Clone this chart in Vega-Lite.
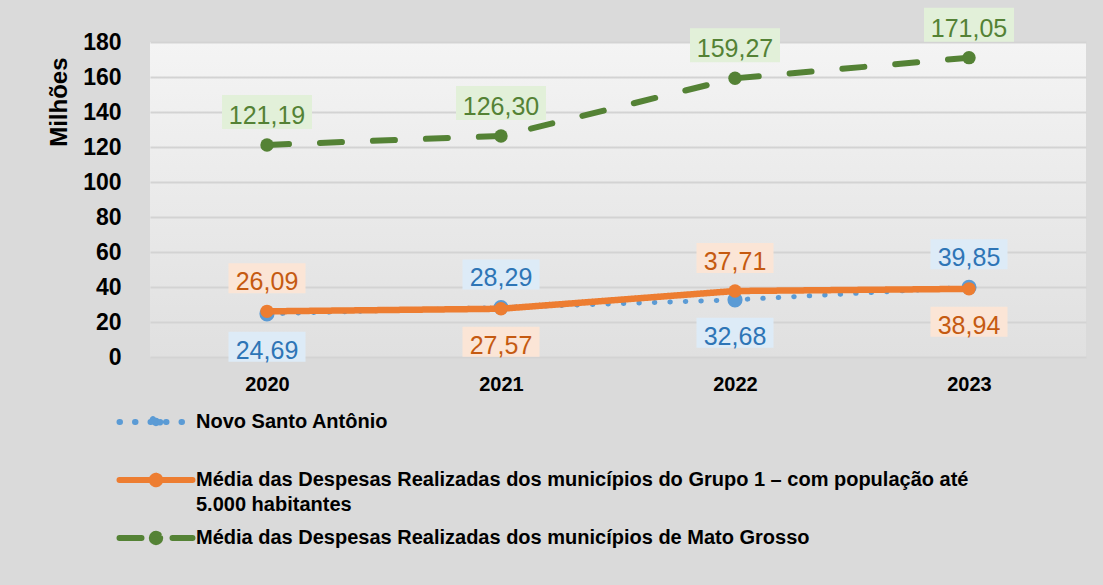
{
  "$schema": "https://vega.github.io/schema/vega-lite/v6.json",
  "width": 936,
  "height": 315,
  "autosize": {"type": "none"},
  "padding": {"left": 150, "top": 42, "right": 17, "bottom": 228},
  "background": "#dadada",
  "config": {
    "font": "Liberation Sans",
    "view": {
      "stroke": null,
      "fill": {"gradient": "linear", "x1": 0, "y1": 0, "x2": 0, "y2": 1, "stops": [{"offset": 0, "color": "#f4f4f4"}, {"offset": 1, "color": "#e0e0e0"}]}
    },
    "locale": {"number": {"decimal": ",", "thousands": ".", "grouping": [3], "currency": ["R$ ", ""]}}
  },
  "data": {
    "values": [
      {"series": "Novo Santo Antônio", "year": "2020", "value": 24.69, "side": "below"},
      {"series": "Novo Santo Antônio", "year": "2021", "value": 28.29, "side": "above"},
      {"series": "Novo Santo Antônio", "year": "2022", "value": 32.68, "side": "below"},
      {"series": "Novo Santo Antônio", "year": "2023", "value": 39.85, "side": "above"},
      {"series": "Média das Despesas Realizadas dos municípios do Grupo 1 – com população até 5.000 habitantes", "year": "2020", "value": 26.09, "side": "above"},
      {"series": "Média das Despesas Realizadas dos municípios do Grupo 1 – com população até 5.000 habitantes", "year": "2021", "value": 27.57, "side": "below"},
      {"series": "Média das Despesas Realizadas dos municípios do Grupo 1 – com população até 5.000 habitantes", "year": "2022", "value": 37.71, "side": "above"},
      {"series": "Média das Despesas Realizadas dos municípios do Grupo 1 – com população até 5.000 habitantes", "year": "2023", "value": 38.94, "side": "below"},
      {"series": "Média das Despesas Realizadas dos municípios de Mato Grosso", "year": "2020", "value": 121.19, "side": "above"},
      {"series": "Média das Despesas Realizadas dos municípios de Mato Grosso", "year": "2021", "value": 126.30, "side": "above"},
      {"series": "Média das Despesas Realizadas dos municípios de Mato Grosso", "year": "2022", "value": 159.27, "side": "above"},
      {"series": "Média das Despesas Realizadas dos municípios de Mato Grosso", "year": "2023", "value": 171.05, "side": "above"}
    ]
  },
  "encoding": {
    "x": {
      "field": "year", "type": "ordinal",
      "scale": {"type": "point", "padding": 0.5},
      "axis": {"title": null, "domain": false, "ticks": false, "labelAngle": 0, "labelFontSize": 20, "labelFontWeight": "bold", "labelColor": "#000000", "labelPadding": 17}
    },
    "y": {
      "field": "value", "type": "quantitative",
      "scale": {"domain": [0, 180], "nice": false},
      "axis": {"title": "Milhões", "values": [0, 20, 40, 60, 80, 100, 120, 140, 160, 180], "domain": false, "ticks": false, "grid": true, "gridColor": "#d3d3d3", "gridWidth": 2, "labelFontSize": 23, "labelFontWeight": "bold", "labelColor": "#000000", "labelPadding": 29, "titleFontSize": 24, "titleFontWeight": "bold", "titleColor": "#000000", "titlePadding": 11, "titleAnchor": "end", "titleY": 15}
    }
  },
  "layer": [
    {
      "encoding": {
        "color": {
          "field": "series", "type": "nominal",
          "scale": {
            "domain": ["Novo Santo Antônio", "Média das Despesas Realizadas dos municípios do Grupo 1 – com população até 5.000 habitantes", "Média das Despesas Realizadas dos municípios de Mato Grosso"],
            "range": ["#5B9BD5", "#ED7D31", "#548235"]
          },
          "legend": {
            "title": null, "orient": "none", "legendX": -7, "legendY": 367, "direction": "vertical", "padding": 0,
            "symbolSize": 400, "symbolType": "M-3.65,0H3.65M0.42,0A0.42,0.42,0,1,1,-0.42,0A0.42,0.42,0,1,1,0.42,0", "symbolStrokeWidth": 6,
            "labelFontSize": 20, "labelFontWeight": "bold", "labelColor": "#000000", "labelLimit": 1000, "labelOffset": 27, "rowPadding": 6, "labelBaseline": "middle",
            "labelExpr": "indexof(datum.label, 'Grupo 1') >= 0 ? replace(datum.label, 'até 5', 'até\\n5') : datum.label + '\\n '",
            "encode": {
              "symbols": {"update": {
                "fill": {"scale": "color", "field": "value"},
                "stroke": {"scale": "color", "field": "value"},
                "strokeCap": {"value": "round"}
              }},
              "labels": {"update": {"lineHeight": {"value": 25}, "lineBreak": {"value": "\n"}}}
            }
          }
        }
      },
      "layer": [
        {
          "transform": [{"filter": {"field": "series", "equal": "Novo Santo Antônio"}}],
          "mark": {"type": "line", "strokeWidth": 5, "strokeCap": "round", "strokeJoin": "round"},
          "encoding": {"strokeDash": {"field": "series", "type": "nominal", "scale": {"domain": ["Novo Santo Antônio", "Média das Despesas Realizadas dos municípios do Grupo 1 – com população até 5.000 habitantes", "Média das Despesas Realizadas dos municípios de Mato Grosso"], "range": [[0.5, 15], [1, 0], [22, 31]]}}}
        },
        {
          "transform": [{"filter": {"field": "series", "equal": "Novo Santo Antônio"}}],
          "mark": {"type": "point", "filled": true, "opacity": 1, "size": 230}
        },
        {
          "transform": [{"filter": {"field": "series", "equal": "Média das Despesas Realizadas dos municípios do Grupo 1 – com população até 5.000 habitantes"}}],
          "mark": {"type": "line", "strokeWidth": 6.5, "strokeCap": "round", "strokeJoin": "round"},
          "encoding": {"strokeDash": {"field": "series", "type": "nominal", "scale": {"domain": ["Novo Santo Antônio", "Média das Despesas Realizadas dos municípios do Grupo 1 – com população até 5.000 habitantes", "Média das Despesas Realizadas dos municípios de Mato Grosso"], "range": [[0.5, 15], [1, 0], [22, 31]]}}}
        },
        {
          "transform": [{"filter": {"field": "series", "equal": "Média das Despesas Realizadas dos municípios do Grupo 1 – com população até 5.000 habitantes"}}],
          "mark": {"type": "point", "filled": true, "opacity": 1, "size": 180}
        },
        {
          "transform": [{"filter": {"field": "series", "equal": "Média das Despesas Realizadas dos municípios de Mato Grosso"}}],
          "mark": {"type": "line", "strokeWidth": 6, "strokeCap": "round", "strokeJoin": "round"},
          "encoding": {"strokeDash": {"field": "series", "type": "nominal", "scale": {"domain": ["Novo Santo Antônio", "Média das Despesas Realizadas dos municípios do Grupo 1 – com população até 5.000 habitantes", "Média das Despesas Realizadas dos municípios de Mato Grosso"], "range": [[0.5, 15], [1, 0], [22, 31]]}}}
        },
        {
          "transform": [{"filter": {"field": "series", "equal": "Média das Despesas Realizadas dos municípios de Mato Grosso"}}],
          "mark": {"type": "point", "filled": true, "opacity": 1, "size": 180}
        }
      ]
    },
    {
      "transform": [{"filter": {"field": "side", "equal": "above"}}],
      "mark": {"type": "point", "filled": true, "opacity": 1, "strokeWidth": 0, "yOffset": -33},
      "encoding": {
        "size": {"value": 10000},
        "shape": {"condition": {"test": "indexof(datum.series, 'Mato') >= 0", "value": "M-0.9,-0.34H0.9V0.34H-0.9Z"}, "value": "M-0.77,-0.3H0.77V0.3H-0.77Z"},
        "fill": {"condition": [{"test": "datum.series === 'Novo Santo Antônio'", "value": "#DDEBF7"}, {"test": "indexof(datum.series, 'Grupo 1') >= 0", "value": "#FBE5D6"}], "value": "#E2F0D9"}
      }
    },
    {
      "transform": [{"filter": {"field": "side", "equal": "below"}}],
      "mark": {"type": "point", "filled": true, "opacity": 1, "strokeWidth": 0, "yOffset": 33},
      "encoding": {
        "size": {"value": 10000},
        "shape": {"condition": {"test": "indexof(datum.series, 'Mato') >= 0", "value": "M-0.9,-0.34H0.9V0.34H-0.9Z"}, "value": "M-0.77,-0.3H0.77V0.3H-0.77Z"},
        "fill": {"condition": [{"test": "datum.series === 'Novo Santo Antônio'", "value": "#DDEBF7"}, {"test": "indexof(datum.series, 'Grupo 1') >= 0", "value": "#FBE5D6"}], "value": "#E2F0D9"}
      }
    },
    {
      "transform": [{"filter": {"field": "side", "equal": "above"}}],
      "mark": {"type": "text", "fontSize": 25, "baseline": "middle", "align": "center", "yOffset": -29},
      "encoding": {
        "text": {"field": "value", "type": "quantitative", "format": ".2f"},
        "color": {"condition": [{"test": "datum.series === 'Novo Santo Antônio'", "value": "#2E75B6"}, {"test": "indexof(datum.series, 'Grupo 1') >= 0", "value": "#C55A11"}], "value": "#548235"}
      }
    },
    {
      "transform": [{"filter": {"field": "side", "equal": "below"}}],
      "mark": {"type": "text", "fontSize": 25, "baseline": "middle", "align": "center", "yOffset": 37},
      "encoding": {
        "text": {"field": "value", "type": "quantitative", "format": ".2f"},
        "color": {"condition": [{"test": "datum.series === 'Novo Santo Antônio'", "value": "#2E75B6"}, {"test": "indexof(datum.series, 'Grupo 1') >= 0", "value": "#C55A11"}], "value": "#548235"}
      }
    }
  ]
}
